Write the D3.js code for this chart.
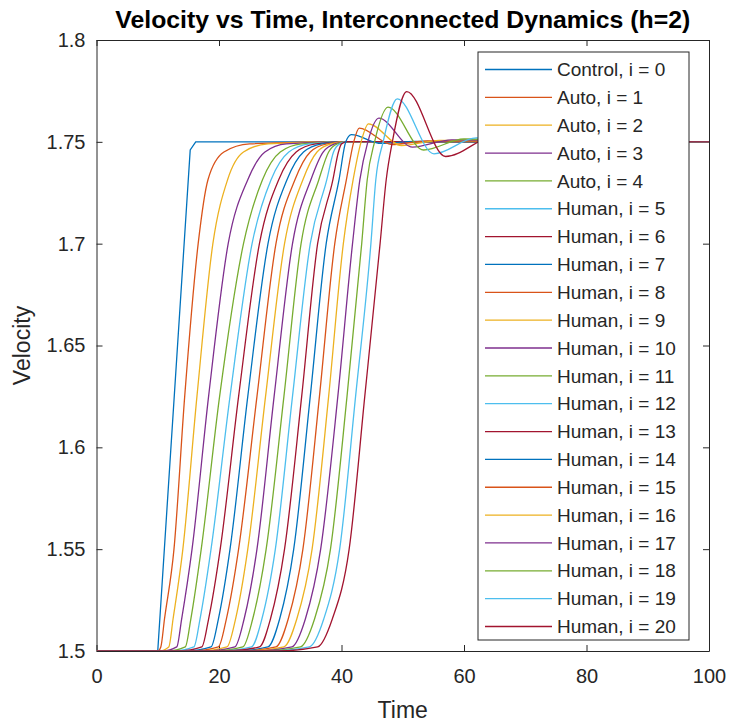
<!DOCTYPE html>
<html lang="en">

<head>
    <meta charset="UTF-8">
    <title>Velocity vs Time</title>
    <style>
        body { margin: 0; background: #fff; }
        svg text { font-family: "Liberation Sans", Arial, sans-serif; fill: #262626; }
        .axis line, .axis path { stroke: #262626; }
        .series { fill: none; stroke-width: 1.3; }
    </style>
</head>

<body>
    <script src="https://d3js.org/d3.v7.min.js"></script>
    <script>
        // Legend labels and MATLAB default line colours.
        const seriesNames = ['Control, i = 0', 'Auto, i = 1', 'Auto, i = 2', 'Auto, i = 3', 'Auto, i = 4',
            'Human, i = 5', 'Human, i = 6', 'Human, i = 7', 'Human, i = 8', 'Human, i = 9', 'Human, i = 10',
            'Human, i = 11', 'Human, i = 12', 'Human, i = 13', 'Human, i = 14', 'Human, i = 15',
            'Human, i = 16', 'Human, i = 17', 'Human, i = 18', 'Human, i = 19', 'Human, i = 20'];
        const palette = ['#0072BD', '#D95319', '#EDB120', '#7E2F8E', '#77AC30', '#4DBEEE', '#A2142F'];

        const xTicks = [0, 20, 40, 60, 80, 100];
        const yTicks = [1.5, 1.55, 1.6, 1.65, 1.7, 1.75, 1.8];

        // Control vehicle (i = 0): ramp then hold.
        const controlT = [0, 10, 15.3, 16.2, 100];
        const controlV = [1.5, 1.5, 1.746, 1.75, 1.75];

        // Followers i = 1..20: times where each curve crosses a velocity level.
        const tFlat = [10, 10.2, 10.8, 11.6, 12.5, 13.4, 14.6, 15.6, 16.8, 17.9, 19.0, 20.2, 21.3, 22.5, 23.6, 24.7, 25.8, 27.0, 28.3, 29.5];
        const t1502 = [10.5, 11.8, 13.1, 14.5, 15.9, 17.2, 18.7, 19.9, 21.3, 22.6, 23.9, 25.3, 26.6, 28.0, 29.3, 30.6, 31.9, 33.3, 34.75, 36.1];
        const t1516 = [11.1, 12.5, 13.9, 15.4, 16.9, 18.3, 19.9, 21.2, 22.7, 24.1, 25.5, 27.0, 28.4, 29.9, 31.3, 32.7, 34.1, 35.6, 37.1, 38.5];
        const t155 = [12.65, 14.1, 15.6, 17.1, 18.7, 20.2, 21.8, 23.2, 24.7, 26.2, 27.7, 29.2, 30.7, 32.2, 33.7, 35.2, 36.6, 38.2, 39.7, 41.25];
        const t1625 = [14.4, 16.4, 18.3, 20.1, 21.8, 23.2, 24.7, 26.2, 27.6, 29.0, 30.6, 32.0, 33.5, 34.9, 36.4, 37.9, 39.4, 40.9, 42.3, 43.8];
        const t170 = [16.6, 19.0, 21.5, 24.0, 25.4, 26.6, 28.0, 29.3, 30.7, 32.0, 33.4, 34.9, 36.1, 37.5, 38.9, 40.3, 41.8, 43.3, 44.8, 46.3];
        const t1731 = [18.2, 21.4, 24.7, 27.1, 28.5, 29.75, 31.1, 32.4, 33.7, 35.0, 36.3, 37.6, 38.6, 39.6, 40.8, 41.9, 43.0, 44.2, 45.6, 47.3];

        // i = 1..13 settle onto 1.75 from below.
        const t1745 = [20.8, 24.0, 27.5, 30.0, 31.4, 32.6, 33.8, 34.9, 36.0, 37.0, 37.9, 38.7, 39.5];
        const t1749 = [25, 28, 31, 33.5, 34.8, 35.8, 36.8, 37.6, 38.3, 38.9, 39.3, 39.7, 40.0];

        // i = 14..20 overshoot: 1.75 crossing, peak, trough, rebound.
        const t175 = [40.7, 42.0, 43.2, 44.3, 45.4, 46.8, 48.3];
        const peakT = [41.6, 42.9, 44.4, 46.1, 47.6, 49.1, 50.65];
        const peakV = [1.7535, 1.7567, 1.7588, 1.7616, 1.767, 1.7711, 1.7747];
        const troughT = [46.5, 48.2, 49.8, 51.6, 53.4, 55.1, 57.0];
        const troughV = [1.7492, 1.7487, 1.7482, 1.7474, 1.746, 1.7441, 1.7428];
        const reboundT = [52, 54, 56, 58, 60, 62, 65];
        const reboundV = [1.7502, 1.7504, 1.7507, 1.751, 1.7514, 1.7519, 1.7525];

        const width = 730;
        const height = 724;
        const plot = { left: 96.5, right: 709, top: 40, bottom: 651 };

        // Build point lists for every series from the arrays above.
        const series = [controlT.map((t, k) => [t, controlV[k]])];
        for (let i = 1; i <= 20; i++) {
            const j = i - 1;
            const pts = [[0, 1.5]];
            if (tFlat[j] > 10) pts.push([10, 1.5]);
            pts.push([tFlat[j], 1.5], [t1502[j], 1.502], [t1516[j], 1.5157], [t155[j], 1.55],
                [t1625[j], 1.625], [t170[j], 1.7], [t1731[j], 1.7314]);
            if (i <= 13) {
                pts.push([t1745[j], 1.745], [t1749[j], 1.749], [41, 1.7501], [100, 1.75]);
            } else {
                const k = i - 14;
                pts.push([t175[k], 1.75], [peakT[k], peakV[k]], [troughT[k], troughV[k]],
                    [reboundT[k], reboundV[k]], [80, 1.7501], [100, 1.75]);
            }
            series.push(pts);
        }

        const svg = d3.select('body').append('svg')
            .attr('width', width)
            .attr('height', height);

        const xScale = d3.scaleLinear().domain([0, 100]).range([plot.left, plot.right]);
        const yScale = d3.scaleLinear().domain([1.5, 1.8]).range([plot.bottom, plot.top]);

        svg.append('defs').append('clipPath').attr('id', 'clip')
            .append('rect')
            .attr('x', plot.left).attr('y', plot.top)
            .attr('width', plot.right - plot.left).attr('height', plot.bottom - plot.top);

        // Axes: ticks point inwards, box on all four sides.
        const fmtY = (d) => String(+d.toFixed(2));
        svg.append('g').attr('class', 'axis')
            .attr('transform', `translate(0,${plot.bottom})`)
            .call(d3.axisBottom(xScale).tickValues(xTicks).tickSizeInner(-6).tickSizeOuter(0).tickPadding(18))
            .call((g) => g.selectAll('text').style('font-size', '20px'));
        svg.append('g').attr('class', 'axis')
            .attr('transform', `translate(0,${plot.top})`)
            .call(d3.axisTop(xScale).tickValues(xTicks).tickSizeInner(-6).tickSizeOuter(0).tickFormat(''));
        svg.append('g').attr('class', 'axis')
            .attr('transform', `translate(${plot.left},0)`)
            .call(d3.axisLeft(yScale).tickValues(yTicks).tickFormat(fmtY).tickSizeInner(-6).tickSizeOuter(0).tickPadding(11))
            .call((g) => g.selectAll('text').style('font-size', '20px'));
        svg.append('g').attr('class', 'axis')
            .attr('transform', `translate(${plot.right},0)`)
            .call(d3.axisRight(yScale).tickValues(yTicks).tickSizeInner(-6).tickSizeOuter(0).tickFormat(''));
        svg.selectAll('.axis .domain').attr('stroke', '#262626');

        // Lines.
        const line = d3.line()
            .x((d) => xScale(d[0]))
            .y((d) => yScale(d[1]));

        svg.append('g').attr('clip-path', 'url(#clip)')
            .selectAll('path')
            .data(series)
            .enter()
            .append('path')
            .attr('class', 'series')
            .attr('stroke', (d, i) => palette[i % 7])
            .attr('d', (d, i) => line.curve(i === 0 ? d3.curveLinear : d3.curveMonotoneX)(d));

        // Titles.
        svg.append('text')
            .attr('x', (plot.left + plot.right) / 2)
            .attr('y', 28)
            .attr('text-anchor', 'middle')
            .style('font-size', '24.8px')
            .style('font-weight', 'bold')
            .style('fill', '#000')
            .text('Velocity vs Time, Interconnected Dynamics (h=2)');

        svg.append('text')
            .attr('x', (plot.left + plot.right) / 2)
            .attr('y', 718)
            .attr('text-anchor', 'middle')
            .style('font-size', '23px')
            .text('Time');

        svg.append('text')
            .attr('transform', `translate(30,${(plot.top + plot.bottom) / 2}) rotate(-90)`)
            .attr('text-anchor', 'middle')
            .style('font-size', '23px')
            .text('Velocity');

        // Legend.
        const legend = svg.append('g');
        legend.append('rect')
            .attr('x', 478).attr('y', 52)
            .attr('width', 211).attr('height', 588)
            .attr('fill', '#fff')
            .attr('stroke', '#262626');

        const rows = legend.selectAll('.row')
            .data(seriesNames)
            .enter()
            .append('g')
            .attr('transform', (d, i) => `translate(0,${69.5 + i * 27.85})`);
        rows.append('line')
            .attr('x1', 485).attr('x2', 552)
            .attr('stroke', (d, i) => palette[i % 7])
            .attr('stroke-width', 1.3);
        rows.append('text')
            .attr('x', 557)
            .attr('dy', '0.35em')
            .style('font-size', '19px')
            .text((d) => d);
    </script>
</body>

</html>
